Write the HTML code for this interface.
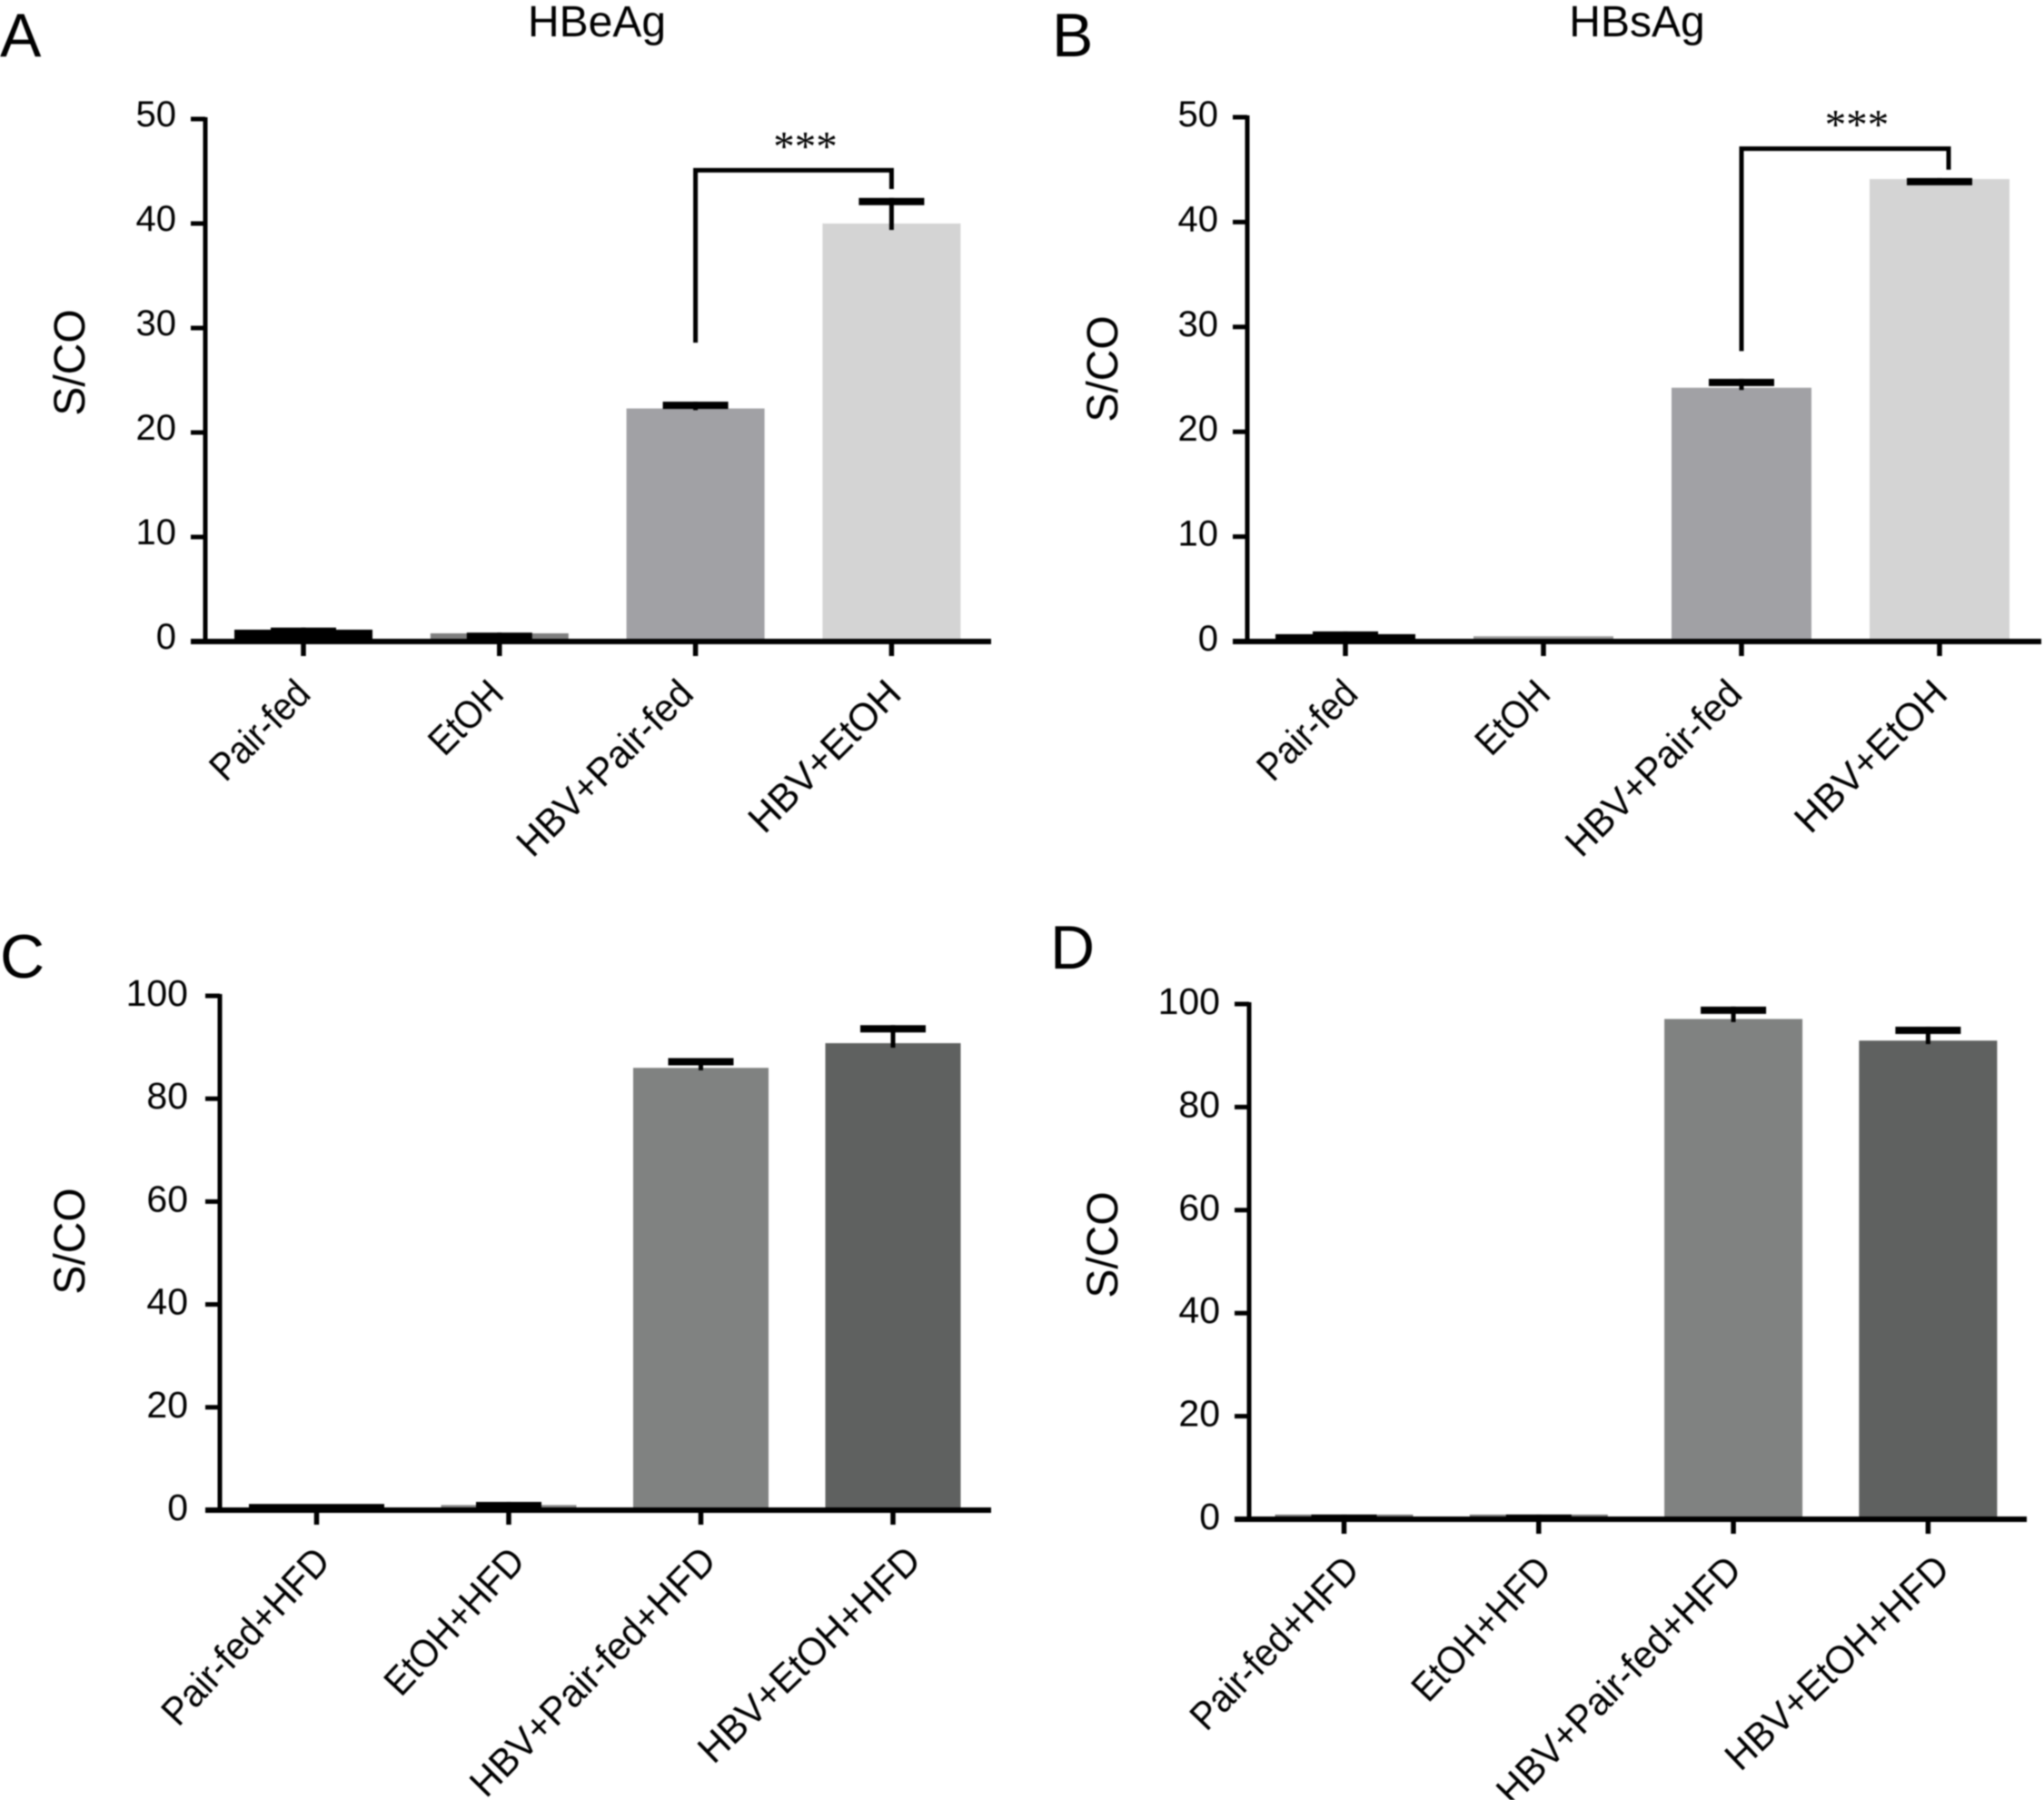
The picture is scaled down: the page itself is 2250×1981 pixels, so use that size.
<!DOCTYPE html>
<html lang="en">
<head>
<meta charset="utf-8">
<title>S/CO bar charts</title>
<style>
html,body{margin:0;padding:0;background:#fff;}
svg{display:block;filter:blur(0.7px);}
text{font-family:"Liberation Sans",sans-serif;fill:#000;}
</style>
</head>
<body>
<svg id="figure" width="2250" height="1981" viewBox="0 0 2250 1981" xmlns="http://www.w3.org/2000/svg"></svg>
<script>
const categoriesTop = ["Pair-fed", "EtOH", "HBV+Pair-fed", "HBV+EtOH"];
const categoriesBottom = ["Pair-fed+HFD", "EtOH+HFD", "HBV+Pair-fed+HFD", "HBV+EtOH+HFD"];
const ticksTop = [0, 10, 20, 30, 40, 50];
const ticksBottom = [0, 20, 40, 60, 80, 100];

const valuesA = [1.13, 0.78, 22.3, 40.0];
const errorsA = [0.2, 0.07, 0.65, 2.45];
const valuesB = [0.7, 0.5, 24.2, 44.1];
const errorsB = [0.26, 0, 0.85, 0.1];
const valuesC = [1.2, 1.0, 86.0, 90.8];
const errorsC = [0, 0.6, 1.9, 3.5];
const valuesD = [0.9, 0.9, 97.1, 92.9];
const errorsD = [0.01, 0.01, 2.4, 2.7];

const colorsA = ["#000000", "#7f7f7f", "#a1a1a5", "#d4d4d4"];
const colorsB = ["#000000", "#9a9a9a", "#a1a1a5", "#d4d4d4"];
const colorsC = ["#000000", "#888888", "#808281", "#5f6160"];
const colorsD = ["#777777", "#777777", "#808281", "#5f6160"];

const bracketA = [28.6, 45.1, 43.3];
const bracketB = [27.7, 47.0, 45.0];

const SVG_NS = "http://www.w3.org/2000/svg";
const figure = document.getElementById("figure");

function make(tag, attrs, parent) {
  const el = document.createElementNS(SVG_NS, tag);
  for (const key in attrs) el.setAttribute(key, attrs[key]);
  parent.appendChild(el);
  return el;
}

function drawPanel(p) {
  const g = make("g", {}, figure);
  
  

  const yMax = p.ticks[p.ticks.length - 1];
  const yScale = v => p.y0 - (v / yMax) * (p.y0 - p.yTop);
  const xScale = i => p.xFirst + i * p.step;

  const letter = make("text", { x: p.letterX, y: p.letterY, "font-size": 68 }, g);
  letter.textContent = p.id;
  
  

  if (p.title) {
    const title = make("text", { x: p.titleX, y: 40, "font-size": 48, "text-anchor": "middle" }, g);
    title.textContent = p.title;
    
    
  }

  const yTitle = make("text", { transform: "translate(" + (p.labelX + 17) + "," + p.labelY + ") rotate(-90)", "font-size": 48, "text-anchor": "middle" }, g);
  yTitle.textContent = "S/CO";
  
  

  p.values.forEach((v, i) => {
    const cx = xScale(i);
    const bar = make("rect", { x: cx - p.barW / 2, y: yScale(v), width: p.barW, height: p.y0 - yScale(v), fill: p.colors[i] }, g);
    
    

    const err = p.errors[i];
    if (err !== 0) {
      const stem = make("line", { x1: cx, x2: cx, y1: yScale(v - err * 0.25), y2: yScale(v + err), stroke: "#000", "stroke-width": 5 }, g);
      
      

      const cap = make("rect", { x: cx - 36, y: yScale(v + err), width: 72, height: 8, fill: "#000" }, g);
      
      
    }
  });

  const yAxis = make("line", { x1: p.xAxis, x2: p.xAxis, y1: p.yTop - 2, y2: p.y0, stroke: "#000", "stroke-width": 5 }, g);
  
  

  const xAxis = make("line", { x1: p.xAxis - 16, x2: p.xEnd, y1: p.y0, y2: p.y0, stroke: "#000", "stroke-width": 6 }, g);
  
  

  p.ticks.forEach(t => {
    const mark = make("line", { x1: p.xAxis - 16, x2: p.xAxis, y1: yScale(t), y2: yScale(t), stroke: "#000", "stroke-width": 5 }, g);
    
    
    const label = make("text", { x: p.xAxis - 32 + p.tickDx, y: yScale(t) + 10 + p.tickDy, "font-size": p.tickSize, "text-anchor": "end" }, g);
    label.textContent = t;
    
    
  });

  p.cats.forEach((c, i) => {
    const cx = xScale(i);
    const mark = make("line", { x1: cx, x2: cx, y1: p.y0, y2: p.y0 + 16, stroke: "#000", "stroke-width": 5.5 }, g);
    
    
    const lx = cx + 10 + p.labelShift[i], ly = p.y0 + 62 + p.labelDy;
    const label = make("text", { transform: "translate(" + lx + "," + ly + ") rotate(" + (-p.labelAngle[i]) + ") scale(" + p.labelScale[i] + ",1)", "font-size": 43, "text-anchor": "end" }, g);
    label.textContent = c;
    
    
  });

  if (p.bracket) {
    const xa = xScale(2), xb = xScale(3) + p.bracketShift;
    const bracket = make("polyline", {
      points: [xa, yScale(p.bracket[0]), xa, yScale(p.bracket[1]), xb, yScale(p.bracket[1]), xb, yScale(p.bracket[2])].join(" "),
      fill: "none", stroke: "#000", "stroke-width": 5
    }, g);
    
    
    const stars = make("text", { x: (xa + xb) / 2 + 13, y: yScale(p.bracket[1]) - 11, "font-size": 47, "text-anchor": "middle", style: "font-family:'Liberation Serif',serif" }, g);
    stars.textContent = "***";
    
    
  }
}

drawPanel({ id: "A", title: "HBeAg", titleX: 657, letterX: 0, letterY: 62, labelX: 76, labelY: 399,
  cats: categoriesTop, ticks: ticksTop, values: valuesA, errors: errorsA, colors: colorsA,
  bracket: bracketA, bracketShift: 0, xAxis: 226, xEnd: 1091, yTop: 131, y0: 706, xFirst: 334, step: 215.8, barW: 152,
  tickDx: 0, tickDy: -2, tickSize: 40, labelDy: -2, labelShift: [0, -3, -10, 3], labelScale: [0.9, 0.91, 0.96, 0.99], labelAngle: [45, 45, 45, 45] });

drawPanel({ id: "B", title: "HBsAg", titleX: 1802, letterX: 1158, letterY: 62, labelX: 1213, labelY: 406,
  cats: categoriesTop, ticks: ticksTop, values: valuesB, errors: errorsB, colors: colorsB,
  bracket: bracketB, bracketShift: 10, xAxis: 1373, xEnd: 2247, yTop: 129, y0: 706, xFirst: 1481, step: 218, barW: 154,
  tickDx: 0, tickDy: 0, tickSize: 40, labelDy: -2, labelShift: [6, 0, -7, 1], labelScale: [0.9, 0.91, 0.96, 0.99], labelAngle: [45, 45, 45, 45] });

drawPanel({ id: "C", letterX: 0, letterY: 1076, labelX: 76, labelY: 1366,
  cats: categoriesBottom, ticks: ticksBottom, values: valuesC, errors: errorsC, colors: colorsC,
  xAxis: 242, xEnd: 1091, yTop: 1096, y0: 1662, xFirst: 348.5, step: 211.5, barW: 149,
  tickDx: -3, tickDy: 1, tickSize: 41, labelDy: -4, labelShift: [7, 10, 9, 23], labelScale: [0.94, 0.93, 0.965, 0.965], labelAngle: [47, 47, 45.5, 44] });

drawPanel({ id: "D", letterX: 1156, letterY: 1066, labelX: 1213, labelY: 1370,
  cats: categoriesBottom, ticks: ticksBottom, values: valuesD, errors: errorsD, colors: colorsD,
  xAxis: 1375, xEnd: 2231, yTop: 1105, y0: 1672, xFirst: 1479.5, step: 214.3, barW: 152,
  tickDx: 0, tickDy: 1, tickSize: 41, labelDy: -4, labelShift: [9, 6, 1, 16], labelScale: [0.93, 0.915, 0.96, 0.965], labelAngle: [46, 46.5, 45.5, 43.5] });
</script>
</body>
</html>
